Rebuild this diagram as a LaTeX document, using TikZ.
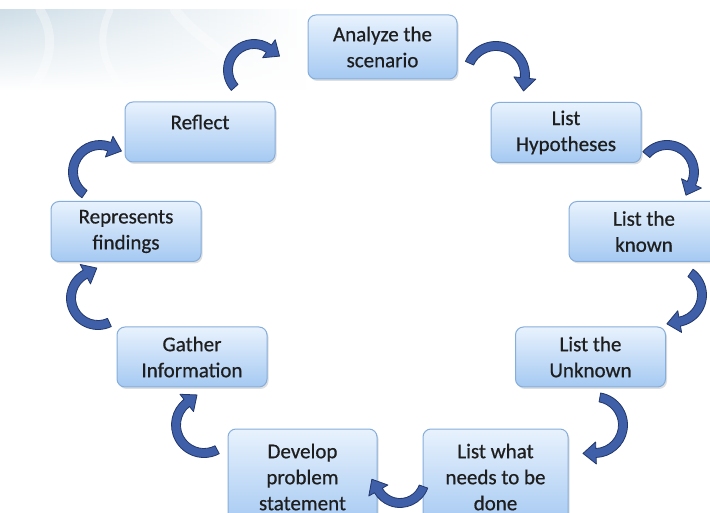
\documentclass[tikz,border=0pt]{standalone}
\usepackage{fontspec}
\setmainfont{Carlito}
\newfontface\labelfont[FakeBold=0.6]{Carlito}
\usetikzlibrary{calc,shadows,fadings}

\definecolor{boxtop}{HTML}{E8F2FD}
\definecolor{boxbot}{HTML}{A5C9F2}
\definecolor{boxline}{HTML}{86AEDC}
\definecolor{arrowfill}{HTML}{3F5FA9}
\definecolor{arrowline}{HTML}{22376A}
\definecolor{labeltext}{HTML}{1E1E1E}
\definecolor{curtain}{HTML}{CCDCE6}

\tikzfading[name=curtainfade, top color=transparent!5, bottom color=transparent!100]

\tikzset{
  stepbox/.style={draw=boxline, line width=1pt, rounded corners=8pt,
    top color=boxtop, bottom color=boxbot,
    minimum width=150pt, minimum height=60pt, inner sep=2pt,
    align=center, text=labeltext, font=\labelfont\fontsize{21}{26}\selectfont,
    drop shadow={opacity=0.25, shadow xshift=1.5pt, shadow yshift=-2pt}},
  arrowband/.style={fill=arrowfill, draw=arrowline, line width=0.8pt, line join=round}
}

% Curved block arrow turning clockwise round a centre:
% #1 centre, #2 radius, #3 start angle, #4 angle where the shaft ends
\newcommand\cyclearrow[4]{%
  \pgfmathsetmacro\aOut{#2+4.5}%
  \pgfmathsetmacro\aIn{#2-4.5}%
  \pgfmathsetmacro\aWo{#2+11}%
  \pgfmathsetmacro\aWi{#2-11}%
  \pgfmathsetmacro\aTan{#4-90}%
  \filldraw[arrowband] ($(#1)+(#3:\aOut)$) arc[start angle=#3, end angle=#4, radius=\aOut]
    -- ($(#1)+(#4:\aWo)$) -- ($(#1)+(#4:#2)+(\aTan:13)$) -- ($(#1)+(#4:\aWi)$)
    -- ($(#1)+(#4:\aIn)$) arc[start angle=#4, end angle=#3, radius=\aIn] -- cycle;
}

\begin{document}
\begin{tikzpicture}[x=1pt,y=1pt]
\useasboundingbox (0,0) rectangle (710,512);
\clip (0,0) rectangle (710,512);
\fill[white] (0,0) rectangle (710,512);

% soft curtain backdrop, top left
\path[left color=curtain, right color=white, path fading=curtainfade] (0,422) rectangle (310,502);
\begin{scope}[white, opacity=0.35, line cap=round]
  \draw[line width=9pt] (40,502) .. controls (60,470) and (45,440) .. (30,420);
  \draw[line width=7pt] (110,502) .. controls (95,470) and (105,445) .. (125,420);
  \draw[line width=10pt] (175,502) .. controls (200,470) and (230,460) .. (250,430);
\end{scope}

% process steps
\node[stepbox, minimum width=149pt, minimum height=64pt] (analyze) at (382.5,465) {Analyze the\\scenario};
\node[stepbox] (hypo) at (566,379.5) {List\\Hypotheses};
\node[stepbox] (known) at (644,280.5) {List the\\known};
\node[stepbox] (unknown) at (590.5,155) {List the\\Unknown};
\node[stepbox, minimum width=145pt, minimum height=96pt] (todo) at (495.5,35) {List what\\needs to be\\done};
\node[stepbox, minimum width=149pt, minimum height=96pt] (develop) at (302.5,35) {Develop\\problem\\statement};
\node[stepbox] (gather) at (192,155) {Gather\\Information};
\node[stepbox] (findings) at (126,280.5) {Represents\\findings};
\node[stepbox, text depth=20pt] (reflect) at (200,380) {Reflect};

% turning points of the cycle
\coordinate (c1) at (496,437);
\coordinate (c2) at (667,340);
\coordinate (c3) at (675,217);
\coordinate (c4) at (595,87);
\coordinate (c5) at (400,34);
\coordinate (c6) at (204,87);
\coordinate (c7) at (98,214);
\coordinate (c8) at (100,340);
\coordinate (c9) at (254,442);

\cyclearrow{c1}{29}{156}{-6}
\cyclearrow{c2}{27}{140}{-25}
\cyclearrow{c3}{27}{55}{-80}
\cyclearrow{c4}{28}{80}{-88}
\cyclearrow{c5}{25}{-20}{-150}
\cyclearrow{c6}{28}{-62}{-232}
\cyclearrow{c7}{27}{-65}{-242}
\cyclearrow{c8}{27}{-125}{-290}
\cyclearrow{c9}{26}{-138}{-305}
\end{tikzpicture}
\end{document}
